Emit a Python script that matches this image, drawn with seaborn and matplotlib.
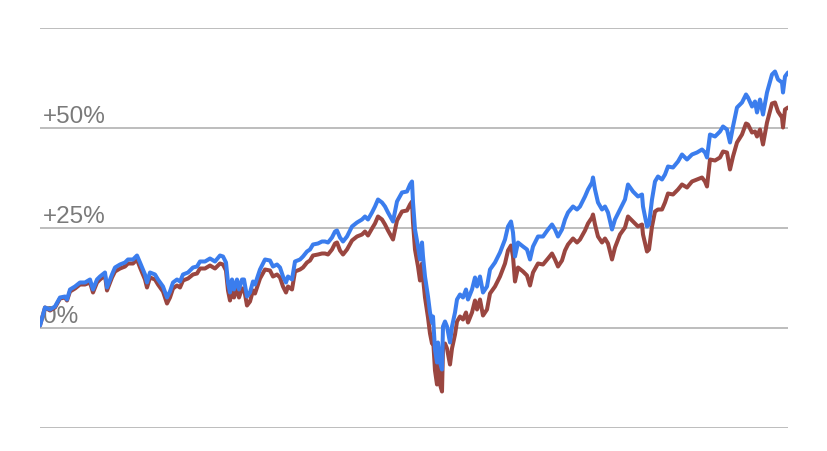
import matplotlib
matplotlib.use("Agg")
import matplotlib.pyplot as plt
import seaborn as sns
import pandas as pd

# trading-day index (0 = start of period)
day = [0, 5, 10, 15, 20, 25, 27, 30, 35, 40, 45, 50, 53, 57, 60, 65, 67, 72, 75, 80,
       85, 88, 93, 97, 100, 105, 107, 110, 115, 118, 123, 127, 130, 133, 137, 140, 143, 148, 153, 157,
       160, 165, 170, 175, 180, 183, 186, 188, 190, 192, 194, 197, 199, 202, 204, 207, 210, 213, 215, 220,
       225, 230, 233, 237, 240, 243, 246, 248, 252, 255, 260, 263, 267, 270, 273, 278, 282, 285, 288, 292,
       295, 297, 300, 303, 307, 312, 317, 322, 325, 328, 332, 335, 338, 342, 345, 348, 353, 357, 362, 367,
       370, 372, 373, 375, 378, 380, 382, 383, 385, 388, 390, 392, 393, 395, 397, 398, 400, 402, 403, 405,
       407, 410, 412, 415, 417, 420, 423, 426, 428, 432, 435, 437, 440, 443, 447, 450, 455, 460, 465, 468,
       471, 473, 475, 478, 483, 487, 490, 493, 498, 503, 508, 512, 515, 518, 522, 525, 528, 533, 537, 540,
       545, 548, 552, 553, 555, 558, 562, 565, 568, 572, 575, 580, 585, 588, 593, 598, 602, 603, 607, 609,
       612, 615, 618, 622, 625, 628, 633, 638, 642, 647, 652, 657, 662, 665, 667, 670, 675, 680, 683, 687,
       690, 693, 697, 702, 706, 708, 712, 715, 717, 720, 723, 727, 732, 735, 738, 742, 743, 745, 748]

# cumulative return of the two portfolios, percent
blue = [0.5, 5.0, 4.5, 5.25, 7.5, 7.75, 7.0, 9.5, 10.25, 11.25,
        11.25, 12.0, 9.5, 12.0, 12.75, 13.75, 10.0, 13.25, 15.0, 15.75,
        16.25, 17.0, 17.0, 18.0, 16.25, 13.25, 11.25, 13.75, 13.25, 12.0,
        10.25, 7.5, 9.0, 11.25, 12.0, 11.5, 13.25, 13.75, 15.0, 15.25,
        16.5, 16.5, 17.25, 16.5, 18.0, 17.75, 16.25, 11.25, 8.75, 12.0,
        9.5, 12.0, 9.5, 12.0, 12.0, 7.75, 8.75, 11.5, 10.75, 14.5,
        17.0, 16.75, 15.25, 15.75, 15.0, 12.75, 11.25, 12.75, 12.0, 16.5,
        17.0, 17.75, 19.0, 19.5, 20.75, 21.0, 21.5, 21.5, 21.25, 22.5,
        24.0, 24.25, 22.5, 21.5, 22.75, 25.25, 26.25, 27.0, 27.75, 27.0,
        28.75, 30.25, 32.0, 31.25, 30.25, 28.75, 26.5, 31.5, 33.75, 34.0,
        35.75, 36.5, 31.25, 24.5, 20.25, 17.0, 21.25, 17.75, 12.75, 7.75,
        3.75, 1.25, 2.75, -5.5, -8.75, -3.75, -8.75, -10.5, 0.25, 1.5,
        0.25, -3.75, 0.25, 3.75, 7.0, 8.25, 7.5, 9.5, 7.0, 9.5,
        12.5, 10.25, 12.75, 8.75, 10.25, 14.5, 16.25, 18.75, 22.0, 25.25,
        26.5, 23.75, 17.75, 21.25, 20.25, 19.5, 17.0, 20.25, 22.75, 22.75,
        24.5, 25.75, 24.5, 22.75, 24.5, 27.0, 28.75, 30.25, 29.5, 30.25,
        32.75, 34.5, 36.25, 37.5, 34.5, 31.25, 29.5, 30.25, 28.75, 24.5,
        27.0, 29.5, 32.0, 35.75, 34.0, 32.75, 33.25, 30.25, 25.25, 25.75,
        32.0, 36.5, 37.75, 37.0, 38.25, 40.25, 40.0, 41.5, 43.25, 42.0,
        43.25, 43.75, 44.5, 43.75, 42.5, 48.25, 47.75, 49.0, 50.25, 49.5,
        46.25, 50.25, 55.0, 56.25, 58.25, 57.5, 55.25, 56.5, 53.75, 57.0,
        53.25, 58.75, 63.25, 64.0, 62.0, 61.25, 58.75, 62.75, 63.75]

red = [0.5, 5.0, 4.25, 5.0, 7.25, 7.5, 6.75, 9.0, 9.75, 10.75,
       10.75, 11.25, 8.75, 11.25, 12.0, 13.0, 9.25, 12.5, 14.0, 14.75,
       15.25, 16.0, 16.0, 17.0, 15.0, 12.0, 10.0, 12.5, 12.0, 10.75,
       9.0, 6.0, 7.5, 9.75, 10.5, 10.0, 11.75, 12.25, 13.25, 13.5,
       14.75, 14.75, 15.5, 14.75, 16.0, 15.75, 14.25, 9.25, 6.75, 10.0,
       7.5, 10.0, 7.5, 9.75, 9.75, 5.5, 6.5, 9.25, 8.5, 12.25,
       14.5, 14.25, 12.75, 13.25, 12.5, 10.25, 8.75, 10.25, 9.5, 14.0,
       14.5, 15.0, 16.25, 16.75, 18.0, 18.25, 18.5, 18.5, 18.25, 19.5,
       21.0, 21.25, 19.25, 18.25, 19.5, 21.75, 22.75, 23.25, 24.0, 23.0,
       24.75, 26.0, 27.75, 27.0, 25.75, 24.25, 22.0, 26.75, 29.0, 29.25,
       30.75, 31.5, 26.25, 19.5, 15.25, 11.75, 16.0, 12.5, 7.5, 2.5,
       -1.5, -4.0, -2.5, -10.75, -14.25, -9.25, -14.25, -16.0, -5.25, -4.0,
       -5.25, -9.25, -5.25, -1.75, 1.5, 2.75, 2.0, 3.75, 1.25, 3.75,
       6.75, 4.5, 7.0, 3.0, 4.5, 8.5, 10.25, 12.75, 16.0, 19.25,
       20.5, 17.75, 11.5, 15.0, 14.0, 13.0, 10.5, 13.75, 16.0, 15.75,
       17.25, 18.5, 17.0, 15.25, 16.75, 19.25, 20.75, 22.25, 21.25, 22.0,
       24.25, 26.0, 27.5, 28.25, 25.75, 22.75, 21.25, 22.25, 21.0, 17.0,
       20.0, 23.25, 25.0, 27.75, 26.5, 25.25, 25.75, 23.25, 19.0, 19.5,
       25.25, 29.0, 29.5, 29.5, 31.25, 33.5, 33.25, 34.5, 35.75, 35.0,
       36.5, 37.0, 37.5, 36.5, 35.25, 42.0, 41.75, 42.5, 44.0, 43.75,
       39.5, 42.75, 46.25, 48.25, 51.0, 50.75, 48.75, 49.0, 47.75, 49.5,
       45.75, 51.25, 56.0, 56.25, 54.0, 52.5, 50.0, 54.5, 55.0]

grid_vals = [-25, 0, 25, 50, 75]
tick_labels = {0: "0%", 25: "+25%", 50: "+50%"}

df = pd.DataFrame({"day": day, "blue": blue, "red": red})

sns.set_style("white")
plt.rcParams["font.family"] = ["Liberation Sans", "DejaVu Sans"]

fig = plt.figure(figsize=(8.27, 4.52), dpi=100)
ax = fig.add_axes([40 / 827, 23.5 / 452, 748 / 827, 400 / 452])

sns.lineplot(data=df, x="day", y="red", color="#9a4640", linewidth=2.9, ax=ax, zorder=3)
sns.lineplot(data=df, x="day", y="blue", color="#3b7ded", linewidth=2.9, ax=ax, zorder=4)

for v in grid_vals:
    ax.axhline(v, color="#bdbdbd", linewidth=1.4, zorder=1)
for v, lab in tick_labels.items():
    ax.text(3, v + 0.2, lab, fontsize=17.5, color="#7a7a7a", ha="left", va="bottom", zorder=2)

ax.set_xlim(0, 748)
ax.set_ylim(-25, 75)
ax.set_xticks([])
ax.set_yticks([])
ax.set_xlabel("")
ax.set_ylabel("")
for s in ax.spines.values():
    s.set_visible(False)
ax.patch.set_alpha(0)

fig.savefig("out.png", dpi=100, facecolor="white")
